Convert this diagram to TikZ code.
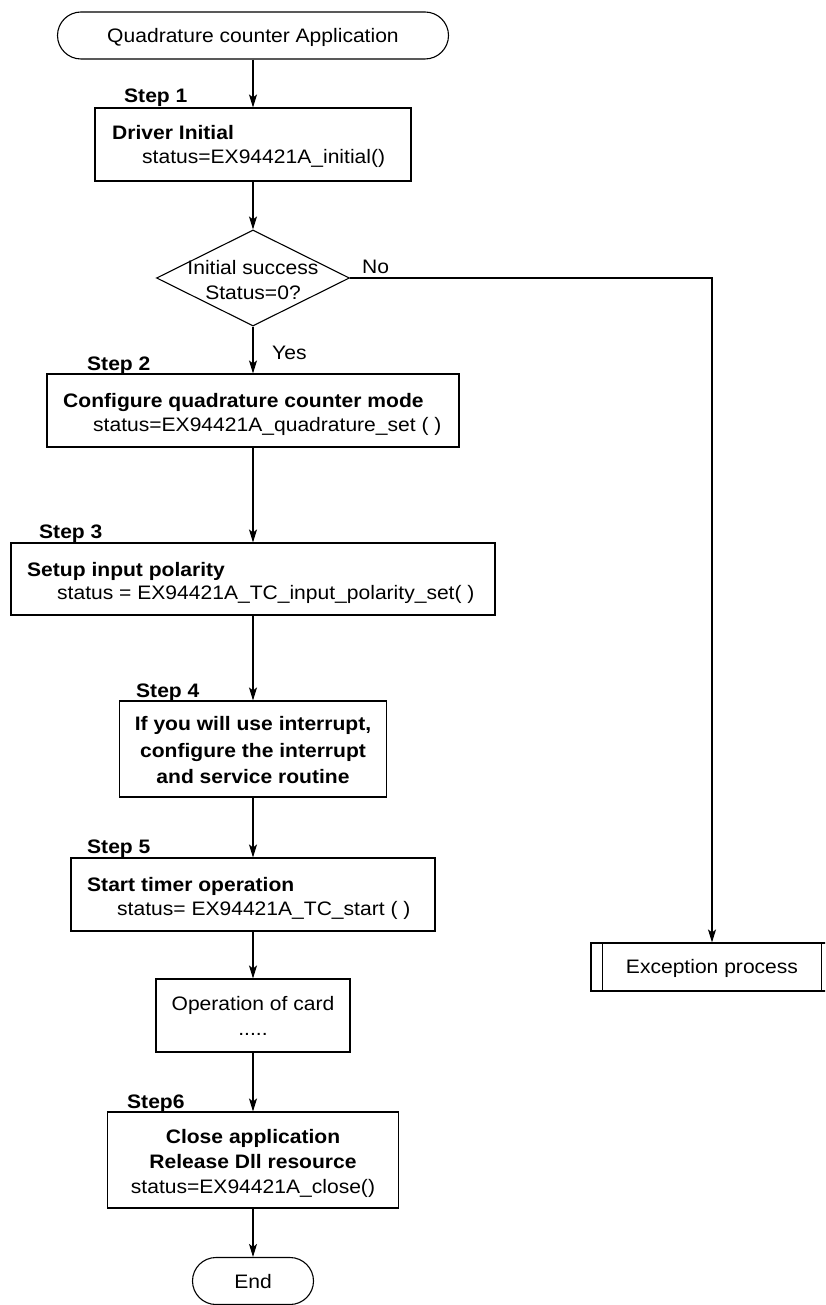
\documentclass[tikz,border=0pt]{standalone}
\usepackage{fontspec}
\setmainfont{Liberation Sans}[FakeStretch=1.08]
\usetikzlibrary{shapes.geometric,shapes.misc,arrows.meta}

\begin{document}
\begin{tikzpicture}[x=1pt,y=-1pt,
  every node/.style={font=\fontsize{19.5}{24}\selectfont, inner sep=0pt},
  procbox/.style={draw, line width=1.1pt, rectangle, minimum width=#1},
  termbox/.style={draw, line width=1.1pt, rounded rectangle, minimum width=#1, minimum height=47pt},
  decision/.style={draw, line width=1.1pt, diamond, aspect=2, minimum width=193pt, minimum height=96pt},
  ltxt/.style={anchor=base west},
  ctxt/.style={anchor=base},
  steplabel/.style={anchor=base west, font=\fontsize{19.5}{24}\selectfont\bfseries},
  flowarrow/.style={line width=1.1pt, -{Stealth[length=13pt,width=8pt,inset=3pt]}},
  flowline/.style={line width=1.1pt}
]
\useasboundingbox (0,0) rectangle (825,1305);
\clip (0,0) rectangle (825,1305);

% ---- shapes ----
\node[termbox=391pt] (start) at (253,35.5) {};
\node[procbox=316pt, minimum height=73pt] (s1) at (253,144.5) {};
\node[decision] (dec) at (253,278) {};
\node[procbox=412pt, minimum height=73pt] (s2) at (253,410.5) {};
\node[procbox=484pt, minimum height=72pt] (s3) at (253,579) {};
\node[procbox=267pt, minimum height=96pt] (s4) at (253,749) {};
\node[procbox=364pt, minimum height=73pt] (s5) at (253,894.5) {};
\node[procbox=194pt, minimum height=73pt] (op) at (253,1015.5) {};
\node[procbox=291pt, minimum height=96pt] (s6) at (253,1160) {};
\node[termbox=121pt] (fin) at (253,1281) {};
\node[procbox=242pt, minimum height=48pt] (exc) at (712,967) {};
\draw[flowline] ([xshift=12pt]exc.north west) -- ([xshift=12pt]exc.south west);
\draw[flowline] ([xshift=-12pt]exc.north east) -- ([xshift=-12pt]exc.south east);
\coordinate (bend) at (712,278);

% ---- texts ----
\node[ctxt] (startT) at (253,43) {Quadrature counter Application};

\node[steplabel] (l1) at (124,103) {Step 1};
\node[ltxt] (s1a) at (112,140) {\bfseries Driver Initial};
\node[ltxt] (s1b) at (142,164) {status=EX94421A\_initial()};

\node[ctxt] (deca) at (253,275) {Initial success};
\node[ctxt] (decb) at (253,299) {Status=0?};
\node[ltxt] (no) at (362,274) {No};
\node[ltxt] (yes) at (272,359) {Yes};

\node[steplabel] (l2) at (87,370) {Step 2};
\node[ltxt] (s2a) at (63,407) {\bfseries Configure quadrature counter mode};
\node[ltxt] (s2b) at (93,431) {status=EX94421A\_quadrature\_set ( )};

\node[steplabel] (l3) at (39,538) {Step 3};
\node[ltxt] (s3a) at (27,576) {\bfseries Setup input polarity};
\node[ltxt] (s3b) at (57,599) {status = EX94421A\_TC\_input\_polarity\_set( )};

\node[steplabel] (l4) at (136,697) {Step 4};
\node[ctxt] (s4a) at (253,730) {\bfseries If you will use interrupt,};
\node[ctxt] (s4b) at (253,757) {\bfseries configure the interrupt};
\node[ctxt] (s4c) at (253,783) {\bfseries and service routine};

\node[steplabel] (l5) at (87,853) {Step 5};
\node[ltxt] (s5a) at (87,891) {\bfseries Start timer operation};
\node[ltxt] (s5b) at (117,915) {status= EX94421A\_TC\_start ( )};

\node[ctxt] (opa) at (253,1010) {Operation of card};
\node[ctxt] (opb) at (253,1035) {.....};

\node[steplabel] (l6) at (127,1108) {Step6};
\node[ctxt] (s6a) at (253,1143) {\bfseries Close application};
\node[ctxt] (s6b) at (253,1168) {\bfseries Release Dll resource};
\node[ctxt] (s6c) at (253,1193) {status=EX94421A\_close()};

\node[ctxt] (finT) at (253,1288) {End};
\node[ctxt] (excT) at (712,973) {Exception process};

% ---- connectors ----
\draw[flowarrow] (start.south) -- (s1.north);
\draw[flowarrow] (s1.south) -- (dec.north);
\draw[flowarrow] (dec.south) -- (s2.north);
\draw[flowarrow] (s2.south) -- (s3.north);
\draw[flowarrow] (s3.south) -- (s4.north);
\draw[flowarrow] (s4.south) -- (s5.north);
\draw[flowarrow] (s5.south) -- (op.north);
\draw[flowarrow] (op.south) -- (s6.north);
\draw[flowarrow] (s6.south) -- (fin.north);
\draw[flowarrow] (dec.east) -- (bend) -- (exc.north);
\end{tikzpicture}
\end{document}
